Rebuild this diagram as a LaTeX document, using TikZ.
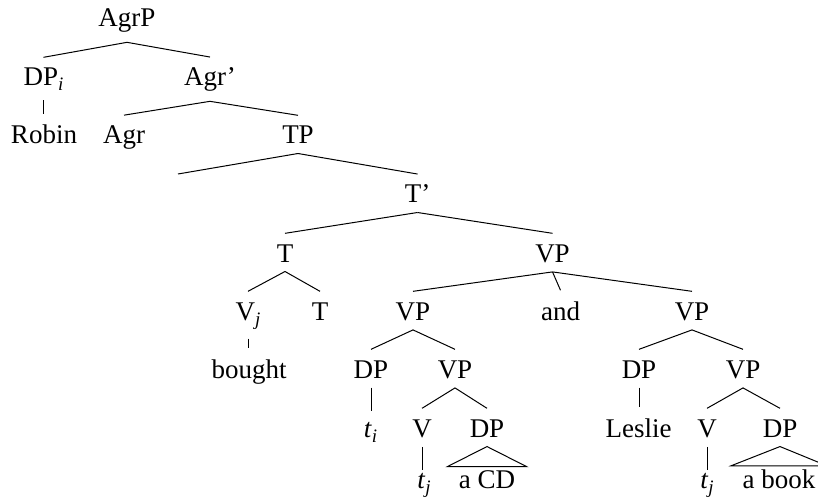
\documentclass[tikz,border=0pt]{standalone}
\usepackage{fontspec}
\setmainfont{Liberation Serif}
\newcommand\sbs[1]{\raisebox{-5pt}{\fontsize{19}{19}\selectfont\itshape #1}}
\newcommand\tedge[2]{\draw ([yshift=-9.5pt]#1.south) -- ([yshift=11pt]#2.north);}
\newcommand\vedge[3]{\draw ([yshift=-9.5pt]#1.south) -- ([yshift=#3]#1.south |- #2.north);}
\newcommand\tri[2]{\draw ([yshift=-9.5pt]#1.south) -- ([xshift=-11.5pt,yshift=3.5pt]#2.north west) -- ([xshift=11.5pt,yshift=3.5pt]#2.north east) -- cycle;}
\begin{document}
\begin{tikzpicture}[x=1pt,y=1pt,
  font=\fontsize{27}{32}\selectfont,
  lab/.style={inner sep=0pt,outer sep=0pt,anchor=base},
  line width=1pt]
\useasboundingbox (0,0) rectangle (818,-502);
% row 1
\node[lab] (agrp) at (127,-27) {AgrP};
% row 2
\node[lab] (dpi) at (43.5,-86) {DP\sbs{i}};
\node[lab] (agrb) at (210,-86) {Agr’};
% row 3
\node[lab] (robin) at (44,-144) {Robin};
\node[lab] (agr) at (124,-144) {Agr};
\node[lab] (tp) at (298,-144) {TP};
% row 4
\coordinate (tpl) at (178,-174);
\node[lab] (tbar) at (417.5,-203) {T’};
% row 5
\node[lab] (t1) at (285,-262) {T};
\node[lab] (vp1) at (552.5,-262) {VP};
% row 6
\node[lab] (vj) at (248,-320) {V\sbs{j}};
\node[lab] (t2) at (320,-320) {T};
\node[lab] (vpl) at (413,-320) {VP};
\node[lab] (and) at (560.5,-320) {and};
\node[lab] (vpr) at (692,-320) {VP};
% row 7
\node[lab] (bought) at (249,-378) {bought};
\node[lab] (dpl) at (371,-378) {DP};
\node[lab] (vpl2) at (455,-378) {VP};
\node[lab] (dpr) at (639,-378) {DP};
\node[lab] (vpr2) at (743,-378) {VP};
% row 8
\node[lab] (ti) at (370.5,-437) {{\itshape t}\kern0.5pt\sbs{i}};
\node[lab] (vl) at (422,-437) {V};
\node[lab] (dpl2) at (487,-437) {DP};
\node[lab] (leslie) at (638.5,-437) {Leslie};
\node[lab] (vr) at (707,-437) {V};
\node[lab] (dpr2) at (780,-437) {DP};
% row 9
\node[lab] (tjl) at (424,-488) {{\itshape t}\kern0.5pt\sbs{j}};
\node[lab] (acd) at (487,-488) {a CD};
\node[lab] (tjr) at (707,-488) {{\itshape t}\kern0.5pt\sbs{j}};
\node[lab] (abook) at (779,-488) {a book};
% edges
\tedge{agrp}{dpi}
\tedge{agrp}{agrb}
\vedge{dpi}{robin}{11pt}
\tedge{agrb}{agr}
\tedge{agrb}{tp}
\draw ([yshift=-9.5pt]tp.south) -- (tpl);
\tedge{tp}{tbar}
\tedge{tbar}{t1}
\tedge{tbar}{vp1}
\tedge{t1}{vj}
\tedge{t1}{t2}
\vedge{vj}{bought}{11pt}
\tedge{vp1}{vpl}
\tedge{vp1}{and}
\tedge{vp1}{vpr}
\tedge{vpl}{dpl}
\tedge{vpl}{vpl2}
\vedge{dpl}{ti}{11pt}
\tedge{vpl2}{vl}
\tedge{vpl2}{dpl2}
\vedge{vl}{tjl}{2.5pt}
\tri{dpl2}{acd}
\tedge{vpr}{dpr}
\tedge{vpr}{vpr2}
\vedge{dpr}{leslie}{11pt}
\tedge{vpr2}{vr}
\tedge{vpr2}{dpr2}
\vedge{vr}{tjr}{2.5pt}
\tri{dpr2}{abook}
\end{tikzpicture}
\end{document}
